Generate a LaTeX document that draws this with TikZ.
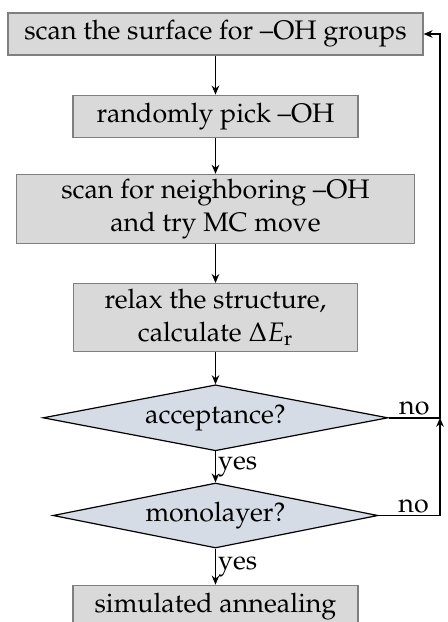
\documentclass[tikz,border=0pt]{standalone}
\usepackage[T1]{fontenc}
\usepackage{mathpazo}
\usetikzlibrary{positioning,shapes.geometric,arrows.meta}
\definecolor{boxfill}{HTML}{D9D9D9}
\definecolor{boxline}{HTML}{7F7F7F}
\definecolor{decfill}{HTML}{D6DCE5}

\begin{document}
\begin{tikzpicture}[
      font=\fontsize{13.4}{16.5}\selectfont,
      stepbox/.style={draw=boxline, fill=boxfill, line width=0.6pt, align=center,
                      minimum height=21pt, inner sep=2pt},
      decision/.style={diamond, draw, fill=decfill, aspect=5, inner sep=0pt,
                       line width=0.6pt},
      arr/.style={-{Stealth[length=4.5pt, width=3.8pt]}, line width=0.7pt},
      lbl/.style={inner sep=1pt},
    ]
    \useasboundingbox (0,0) rectangle (223.5pt,-311pt);

    % main chain of steps
    \node[stepbox, minimum width=207.5pt] (scan) at (107.75pt,-17pt) {scan the surface for --OH groups};
    \node[stepbox, minimum width=142.5pt, below=19.5pt of scan] (pick) {randomly pick --OH};
    \node[stepbox, minimum width=199pt, minimum height=34.5pt, below=18pt of pick] (move) {scan for neighboring --OH\\and try MC move};
    \node[stepbox, minimum width=142pt, minimum height=34pt, below=19.5pt of move] (relax) {relax the structure,\\calculate $\Delta E_\mathrm{r}$};
    \node[decision, minimum width=172.5pt, minimum height=33pt, below=16pt of relax] (accept) {acceptance?};
    \node[decision, minimum width=162.5pt, minimum height=32.5pt, below=15.5pt of accept] (mono) {monolayer?};
    \node[stepbox, minimum width=142.5pt, below=18pt of mono] (anneal) {simulated annealing};

    \draw[arr] (scan) -- (pick);
    \draw[arr] (pick) -- (move);
    \draw[arr] (move) -- (relax);
    \draw[arr] (relax) -- (accept);
    \draw[arr] (accept) -- node[lbl, right] {yes} (mono);
    \draw[arr] (mono) -- node[lbl, right] {yes} (anneal);

    % return path on the right
    \coordinate (back) at (220pt,0);
    \draw[arr] (accept.east) -- node[lbl, above, pos=0.5] {no} (accept.east -| back) |- (scan.east);
    \draw[arr] (mono.east) -- node[lbl, above, pos=0.57] {no} (mono.east -| back) -- (accept.east -| back);
  \end{tikzpicture}
\end{document}
